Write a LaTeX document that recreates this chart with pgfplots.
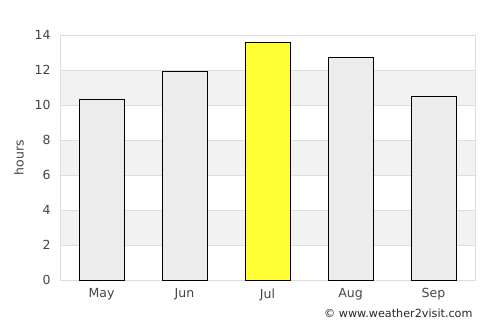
\documentclass[border=0pt]{standalone}
\usepackage{pgfplots}
\pgfplotsset{compat=1.18}
\usepackage{fontspec}
\setmainfont{DejaVu Sans}
\definecolor{band}{HTML}{F2F2F2}
\definecolor{barg}{HTML}{ECECEC}
\definecolor{bary}{HTML}{FFFF33}
\definecolor{gridc}{HTML}{DDDDDD}
\definecolor{txt}{HTML}{444444}
\begin{document}
\begin{tikzpicture}
\begin{axis}[
  at={(60pt,45pt)}, anchor=south west,
  scale only axis, width=415pt, height=245pt,
  xmin=-0.5, xmax=4.5, ymin=0, ymax=14,
  xtick={0,1,2,3,4}, xticklabels={May,Jun,Jul,Aug,Sep},
  ytick={0,2,...,14},
  ymajorgrids, grid style={gridc, line width=0.8pt},
  axis line style={gridc, line width=0.8pt},
  major tick length=0pt,
  tick label style={font=\fontsize{12.5}{14}\selectfont, text=txt},
  /pgf/number format/assume math mode=true,
  yticklabel style={xshift=-6pt},
  xticklabel style={yshift=-5pt},
  ylabel={hours}, ylabel style={font=\fontsize{12.5}{14}\selectfont, text=txt, yshift=4pt},
  set layers,
]
\addplot[draw=none, fill=band, on layer=axis background] coordinates {(-0.5,2) (4.5,2) (4.5,4) (-0.5,4)} -- cycle;
\addplot[draw=none, fill=band, on layer=axis background] coordinates {(-0.5,6) (4.5,6) (4.5,8) (-0.5,8)} -- cycle;
\addplot[draw=none, fill=band, on layer=axis background] coordinates {(-0.5,10) (4.5,10) (4.5,12) (-0.5,12)} -- cycle;
\addplot[ybar, bar width=0.54, fill=barg, draw=black, line width=0.8pt] coordinates {(0,10.3) (1,11.9) (3,12.7) (4,10.5)};
\addplot[ybar, bar width=0.54, fill=bary, draw=black, line width=0.8pt] coordinates {(2,13.6)};
\end{axis}
\node[anchor=east, text=black!85, font=\fontsize{11.2}{13}\selectfont] at (476pt,12pt) {© www.weather2visit.com};
\path (0pt,0pt) rectangle (500pt,325pt);
\end{tikzpicture}
\end{document}
